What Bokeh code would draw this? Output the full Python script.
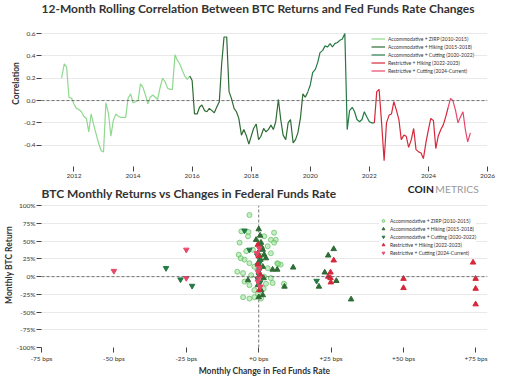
from bokeh.plotting import figure
from bokeh.layouts import column
from bokeh.models import Span, FixedTicker, Label
from bokeh.embed import file_html
from bokeh.resources import INLINE

FONT = "Lato"

# ---------------- data: rolling correlation (decimal year, value) ----------------
zirp_year = [2011.58, 2011.67, 2011.75, 2011.83, 2011.92, 2012.00, 2012.08, 2012.17, 2012.25, 2012.33,
             2012.42, 2012.50, 2012.58, 2012.67, 2012.75, 2012.83, 2012.92, 2013.00, 2013.08, 2013.17,
             2013.25, 2013.33, 2013.42, 2013.50, 2013.58, 2013.67, 2013.75, 2013.83, 2013.92, 2014.00,
             2014.08, 2014.17, 2014.25, 2014.33, 2014.42, 2014.50, 2014.58, 2014.67, 2014.75, 2014.83,
             2014.92, 2015.00, 2015.08, 2015.17, 2015.25, 2015.33, 2015.42, 2015.50, 2015.58, 2015.67,
             2015.75, 2015.83, 2015.92]
zirp_corr = [0.20, 0.33, 0.30, 0.03, 0.02, -0.03, -0.07, -0.08, -0.10, -0.14,
             -0.16, -0.28, -0.12, -0.22, -0.30, -0.38, -0.45, -0.46, -0.02, -0.12,
             -0.32, -0.18, -0.12, -0.14, -0.15, -0.15, -0.15, 0.02, 0.06, -0.02,
             -0.01, 0.00, 0.15, 0.12, 0.05, -0.03, 0.03, 0.05, 0.03, 0.01,
             0.12, 0.20, 0.17, 0.11, 0.10, 0.10, 0.41, 0.36, 0.33, 0.27,
             0.22, 0.19, 0.22]

hike_year = [2016.00, 2016.08, 2016.17, 2016.25, 2016.33, 2016.42, 2016.50, 2016.58, 2016.67, 2016.75,
             2016.83, 2016.92, 2017.00, 2017.08, 2017.17, 2017.25, 2017.33, 2017.42, 2017.50, 2017.58,
             2017.67, 2017.75, 2017.83, 2017.92, 2018.00, 2018.08, 2018.17, 2018.25, 2018.33, 2018.42,
             2018.50, 2018.58, 2018.67, 2018.75, 2018.83, 2018.92, 2019.00, 2019.08, 2019.17, 2019.25,
             2019.33, 2019.42, 2019.50, 2019.58, 2019.67, 2019.75, 2019.83, 2019.92]
hike_corr = [0.18, -0.12, -0.12, -0.06, -0.04, -0.09, -0.10, -0.07, -0.09, -0.11,
             -0.06, -0.01, 0.33, 0.57, 0.57, 0.08, 0.02, -0.07, -0.10, -0.16,
             -0.31, -0.26, -0.31, -0.39, -0.32, -0.25, -0.21, -0.35, -0.32, -0.25,
             -0.28, -0.26, -0.22, -0.26, -0.19, 0.01, -0.17, -0.31, -0.35, -0.20,
             -0.17, -0.38, -0.35, -0.29, -0.15, 0.06, 0.03, 0.08]

cut_year = [2020.00, 2020.08, 2020.17, 2020.25, 2020.33, 2020.42, 2020.50, 2020.58, 2020.67, 2020.75,
            2020.83, 2020.92, 2021.00, 2021.08, 2021.17, 2021.25, 2021.33, 2021.42, 2021.50, 2021.58,
            2021.67, 2021.75, 2021.83, 2021.92, 2022.00, 2022.08, 2022.17]
cut_corr = [0.14, 0.25, 0.28, 0.34, 0.43, 0.45, 0.49, 0.48, 0.51, 0.48,
            0.51, 0.52, 0.54, 0.55, 0.60, -0.26, -0.09, -0.06, -0.10, -0.17,
            -0.19, -0.17, -0.10, -0.15, -0.19, -0.20, -0.20]

rhike_year = [2022.25, 2022.33, 2022.42, 2022.50, 2022.58, 2022.67, 2022.75, 2022.83, 2022.92, 2023.00,
              2023.08, 2023.17, 2023.25, 2023.33, 2023.42, 2023.50, 2023.58, 2023.67, 2023.75, 2023.83,
              2023.92, 2024.00, 2024.08, 2024.17, 2024.25, 2024.33, 2024.42, 2024.50, 2024.58, 2024.67]
rhike_corr = [0.08, 0.10, -0.22, -0.54, -0.20, -0.13, -0.12, -0.01, -0.09, -0.17,
              -0.35, -0.31, -0.32, -0.42, -0.35, -0.25, -0.44, -0.46, -0.47, -0.52,
              -0.37, -0.26, -0.16, -0.18, -0.43, -0.32, -0.26, -0.22, -0.15, -0.06]

rcut_year = [2024.75, 2024.83, 2024.92, 2025.00, 2025.08, 2025.17, 2025.25, 2025.33, 2025.42]
rcut_corr = [0.02, 0.00, -0.09, -0.20, -0.15, -0.10, -0.26, -0.37, -0.29]

regime_labels = ["Accommodative + ZIRP (2010-2015)",
                 "Accommodative + Hiking (2015-2018)",
                 "Accommodative + Cutting (2020-2022)",
                 "Restrictive + Hiking (2022-2023)",
                 "Restrictive + Cutting (2024-Current)"]
regime_colors = ["#8fd88f", "#2f6b34", "#237a45", "#d6283a", "#e8476a"]

year_ticks = [2012, 2014, 2016, 2018, 2020, 2022, 2024, 2026]
corr_ticks = [-0.4, -0.2, 0.0, 0.2, 0.4, 0.6]
corr_tick_labels = ["-0.4", "-0.2", "0.0", "0.2", "0.4", "0.6"]

# ---------------- data: scatter (bps change, monthly return %) ----------------
zirp_bps = [-3.2, -6.0, -3.5, -6.6, 1.9, 4.2, 5.9, 5.3, 3.1, -6.9, -6.2, -4.9, -3.2, -1.5, 3.1, 6.4,
            7.6, -7.4, -5.4, -2.6, 1.9, 4.2, -4.9, -3.2, -1.5, 2.5, 1.7, 4.8, -1.5, -3.2, 0.8, 8.7,
            -5.4, -0.3, -3.7, -2.0, -4.3, 5.3, 4.2, 0.8, 6.7]
zirp_ret = [87, 64, 63, 48, 57, 52, 52, 48, 43, 31, 26, 24, 19, 14, 12, 19,
            17, 7, 5, 2, 0, -2, -7, -12, -19, -10, -17, -9, -29, -31, -31, -10,
            -29, -24, 57, 38, 36, 62, 33, 29, 18]

hike_bps = [0.0, -0.9, 0.8, 1.4, -0.3, 1.9, 0.6, 2.5, -0.3, 1.4, 4.8, 6.4, 11.9, 0.2, 1.7, -0.3,
            0.8, 1.4, -3.7, 0.0, 25.9, 24.0, 22.8, 26.8, 20.8, 8.9, 31.9, 0.5, 1.0]
hike_ret = [67, 52, 48, 38, 33, 31, 24, 26, 19, 14, 10, 10, 13, 5, -2, -12,
            -19, -26, -5, -29, 39, 30, 6, -6, -14, -14, -32, 58, 42]

cut_bps = [-32.0, -27.0, -23.0, -4.9, -3.2, 0.3, -0.5, 0.6, 0.2, -0.4, 0.5, 0.0, -0.2, 0.4, 20.0]
cut_ret = [12, -4, -13, 65, 38, 45, 30, 22, 9, -3, -8, 3, 16, 27, -6]

rhike_bps = [-0.3, 0.0, -0.3, 0.6, 0.2, 25.9, 24.8, 24.0, 24.8, 24.9, 50.0, 50.0, 74.0, 74.9, 74.9, 74.9]
rhike_ret = [45, 29, 17, 2, -19, 23, 6, 0, -2, -8, -3, -16, 20, -3, -17, -39]

rcut_bps = [-50.0, -25.0, -25.0, 0.2, -0.6, 0.2, -0.3, 0.0, -0.3, 0.6]
rcut_ret = [8, 38, -2, 40, 33, 12, 7, -2, -7, -14]

bps_ticks = [-75, -50, -25, 0, 25, 50, 75]
bps_tick_labels = ["-75 bps", "-50 bps", "-25 bps", "+0 bps", "+25 bps", "+50 bps", "+75 bps"]
ret_ticks = [-100, -75, -50, -25, 0, 25, 50, 75, 100]
ret_tick_labels = ["-100%", "-75%", "-50%", "-25%", "0%", "25%", "50%", "75%", "100%"]

TITLE1 = "12-Month Rolling Correlation Between BTC Returns and Fed Funds Rate Changes"
TITLE2 = "BTC Monthly Returns vs Changes in Federal Funds Rate"

TXT = "#333333"
GRID = "#e9e9e9"


def style_axes(p):
    for ax in (p.xaxis[0], p.yaxis[0]):
        ax.axis_line_color = None
        ax.major_tick_line_color = "#444444"
        ax.major_tick_in = 0
        ax.major_tick_out = 5
        ax.minor_tick_line_color = None
        ax.major_label_text_font = FONT
        ax.major_label_text_font_size = "6.5px"
        ax.major_label_text_color = TXT
        ax.major_label_standoff = 2
        ax.axis_label_text_font = FONT
        ax.axis_label_text_font_size = "8.5px"
        ax.axis_label_text_font_style = "bold"
        ax.axis_label_text_color = TXT
        ax.axis_label_standoff = 3
    p.yaxis.major_label_standoff = 1
    p.yaxis.axis_label_standoff = 0
    p.xgrid.grid_line_color = None
    p.ygrid.grid_line_color = GRID
    p.outline_line_color = None


def style_legend(lg):
    lg.label_text_font = FONT
    lg.label_text_font_size = "5px"
    lg.label_text_color = TXT
    lg.label_height = 7
    lg.glyph_height = 7
    lg.label_standoff = 3
    lg.spacing = 1
    lg.padding = 2
    lg.border_line_color = None
    lg.background_fill_alpha = 1


# ---------------- top chart (frame extends up to hold its title) ----------------
p1 = figure(width=511, height=182, x_range=(2010.9, 2026.0), y_range=(-0.591, 0.897),
            output_backend="svg", toolbar_location=None,
            min_border_left=32, min_border_right=23, min_border_top=0, min_border_bottom=16)

p1.add_layout(Span(location=0, dimension="width", line_color="#555555", line_dash="3 2", line_width=0.8))

years = [zirp_year, hike_year, cut_year, rhike_year, rcut_year]
corrs = [zirp_corr, hike_corr, cut_corr, rhike_corr, rcut_corr]
prev_x, prev_y = None, None
for xs, ys, col, lab in zip(years, corrs, regime_colors, regime_labels):
    xx = list(xs)
    yy = list(ys)
    if prev_x is not None:
        xx = [prev_x] + xx
        yy = [prev_y] + yy
    p1.line(xx, yy, line_color=col, line_width=1.2, legend_label=lab)
    prev_x, prev_y = xs[-1], ys[-1]

style_axes(p1)
p1.xaxis.ticker = FixedTicker(ticks=year_ticks)
p1.yaxis.ticker = FixedTicker(ticks=corr_ticks)
p1.yaxis.major_label_overrides = {t: s for t, s in zip(corr_ticks, corr_tick_labels)}
p1.yaxis.axis_label = "Correlation"

lg1 = p1.legend[0]
style_legend(lg1)
lg1.location = (330, 92)
lg1.glyph_width = 14

p1.add_layout(Label(x=p1.x_range.start, y=0.823, text=TITLE1, text_font=FONT,
                    text_font_size="12px", text_font_style="bold", text_color=TXT,
                    text_baseline="middle"))

# ---------------- bottom chart (frame extends up to hold its title) ----------------
p2 = figure(width=511, height=196, x_range=(-75, 79), y_range=(-100, 132.9),
            output_backend="svg", toolbar_location=None,
            min_border_left=32, min_border_right=24, min_border_top=0, min_border_bottom=31)

p2.add_layout(Span(location=0, dimension="width", line_color="#555555", line_dash="3 2", line_width=0.8))
p2.segment(x0=[0], y0=[ret_ticks[0]], x1=[0], y1=[ret_ticks[-1]],
           line_color="#555555", line_dash="3 2", line_width=0.8)

p2.scatter(zirp_bps, zirp_ret, marker="circle", size=5, fill_color="#8fdc8f", fill_alpha=0.5,
           line_color="#6cc46c", line_alpha=0.8, legend_label=regime_labels[0])
p2.scatter(hike_bps, hike_ret, marker="triangle", size=5.5, fill_color=regime_colors[1],
           line_color=regime_colors[1], legend_label=regime_labels[1])
p2.scatter(cut_bps, cut_ret, marker="inverted_triangle", size=5.5, fill_color=regime_colors[2],
           line_color=regime_colors[2], legend_label=regime_labels[2])
p2.scatter(rhike_bps, rhike_ret, marker="triangle", size=5.5, fill_color=regime_colors[3],
           line_color=regime_colors[3], legend_label=regime_labels[3])
p2.scatter(rcut_bps, rcut_ret, marker="inverted_triangle", size=5.5, fill_color=regime_colors[4],
           line_color=regime_colors[4], legend_label=regime_labels[4])

style_axes(p2)
p2.xaxis.axis_label_standoff = 1
p2.xaxis.ticker = FixedTicker(ticks=bps_ticks)
p2.xaxis.major_label_overrides = {t: s for t, s in zip(bps_ticks, bps_tick_labels)}
p2.yaxis.ticker = FixedTicker(ticks=ret_ticks)
p2.yaxis.major_label_overrides = {t: s for t, s in zip(ret_ticks, ret_tick_labels)}
p2.xaxis.axis_label = "Monthly Change in Fed Funds Rate"
p2.yaxis.axis_label = "Monthly BTC Return"

lg2 = p2.legend[0]
style_legend(lg2)
lg2.location = (338, 91)
lg2.glyph_width = 8
lg2.title = "\u00a0"
lg2.title_text_font = FONT
lg2.title_text_font_size = "5.3px"
lg2.title_standoff = 2

# legend heading, centred over the legend entries
p2.add_layout(Label(x=57.7, y=91, text="Regime", text_font=FONT, text_font_size="5.3px",
                    text_font_style="bold", text_color=TXT, text_align="center",
                    text_baseline="middle"))

# title and logo text sit inside the extended frame, above the 100% line
p2.add_layout(Label(x=p2.x_range.start, y=117, text=TITLE2, text_font=FONT, text_font_size="12px",
                    text_font_style="bold", text_color=TXT, text_baseline="middle"))
p2.add_layout(Label(x=51.5, y=124, text="COIN",
                    text_font=FONT, text_font_size="10.3px", text_font_style="bold",
                    text_color="#222222", text_baseline="middle"))
p2.add_layout(Label(x=61.0, y=124, text="METRICS",
                    text_font=FONT, text_font_size="10.3px", text_color="#9a9a9a",
                    text_baseline="middle"))

layout = column(p1, p2)
open("out.html", "w").write(file_html(layout, INLINE))
